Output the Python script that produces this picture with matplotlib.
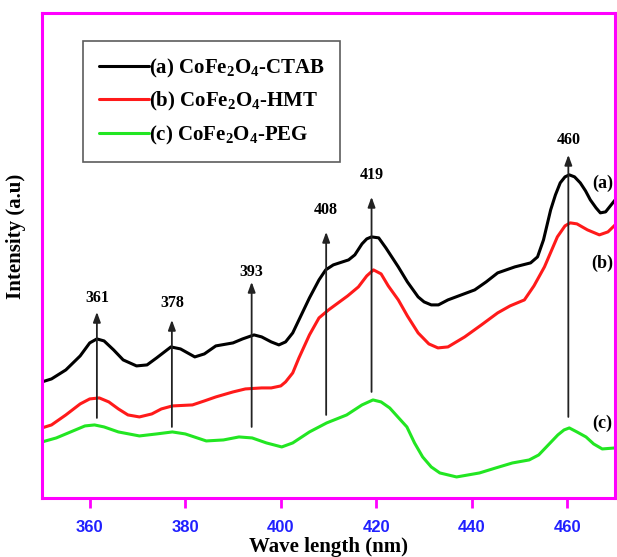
import numpy as np
import matplotlib
matplotlib.use("Agg")
import matplotlib.pyplot as plt


# ============================================================
# 1. DATA (intensity in a.u.)
# ============================================================

wl_a = [350, 352, 355, 358, 360, 361.5, 363, 365, 367, 369.8, 372, 374, 377, 379,
        382, 384, 386.4, 390, 392, 394.4, 396, 398, 399.6, 401, 402.5, 403.8, 406,
        408, 409.4, 411, 414.2, 415.5, 417, 418, 419, 420.5, 422, 424.6, 426.5,
        428.75, 430, 431.5, 433, 435, 440.6, 443, 445.4, 449, 452.3, 453.75, 455,
        456.5, 457.5, 458.5, 459.5, 460.4, 461.5, 462.7, 463.8, 464.8, 466, 466.9,
        468, 469, 470]
int_a = [1.16, 1.19, 1.28, 1.42, 1.55, 1.59, 1.57, 1.48, 1.38, 1.32, 1.33, 1.40,
         1.51, 1.49, 1.41, 1.44, 1.52, 1.55, 1.59, 1.63, 1.61, 1.56, 1.53, 1.56,
         1.65, 1.78, 2.00, 2.18, 2.28, 2.33, 2.38, 2.43, 2.54, 2.59, 2.61, 2.60,
         2.50, 2.31, 2.16, 2.01, 1.96, 1.93, 1.93, 1.98, 2.08, 2.16, 2.25, 2.31,
         2.35, 2.41, 2.58, 2.88, 3.03, 3.15, 3.21, 3.23, 3.21, 3.15, 3.07, 2.98,
         2.90, 2.85, 2.86, 2.92, 2.98]

wl_b = [350, 352, 355, 358, 360, 362, 364, 366, 368, 370.4, 373, 375, 377.3, 381.5,
        384, 386.4, 390, 392.6, 396, 398, 400, 401, 402.5, 403.8, 406, 408, 410,
        412, 414, 416.25, 418, 419.4, 421, 422.5, 424.6, 426.5, 428.75, 431, 432.9,
        435, 438.5, 442, 445.4, 448, 451, 453, 455.2, 457.9, 459.5, 460.6, 462,
        464.2, 466.7, 468.5, 470]
int_b = [0.70, 0.73, 0.83, 0.94, 0.99, 1.00, 0.96, 0.89, 0.83, 0.81, 0.84, 0.89,
         0.92, 0.93, 0.97, 1.01, 1.06, 1.09, 1.10, 1.10, 1.12, 1.16, 1.25, 1.40,
         1.63, 1.80, 1.88, 1.95, 2.02, 2.11, 2.22, 2.28, 2.24, 2.12, 1.98, 1.82,
         1.65, 1.54, 1.50, 1.51, 1.61, 1.73, 1.85, 1.92, 1.98, 2.12, 2.31, 2.61,
         2.72, 2.75, 2.74, 2.68, 2.63, 2.66, 2.73]

wl_c = [350, 353, 356, 359, 361, 363, 366, 370.4, 374, 377.3, 380, 384.4, 388,
        391.25, 394, 397, 400.2, 402.5, 406, 409.6, 413.8, 417, 419.3, 421, 422.8,
        424.5, 426.4, 428, 429.7, 431.5, 433.3, 436.8, 441.6, 445, 448.5, 452,
        454, 455.6, 458, 459.3, 460.4, 462, 463.9, 465.5, 467.3, 470]
int_c = [0.56, 0.60, 0.66, 0.72, 0.73, 0.71, 0.66, 0.62, 0.64, 0.66, 0.64, 0.57,
         0.58, 0.61, 0.60, 0.55, 0.51, 0.55, 0.66, 0.75, 0.83, 0.93, 0.98, 0.96,
         0.90, 0.81, 0.71, 0.55, 0.41, 0.31, 0.25, 0.21, 0.25, 0.30, 0.35, 0.38,
         0.43, 0.51, 0.63, 0.68, 0.70, 0.66, 0.61, 0.54, 0.49, 0.50]

series_labels = ["(a) CoFe$_2$O$_4$-CTAB", "(b) CoFe$_2$O$_4$-HMT", "(c) CoFe$_2$O$_4$-PEG"]
series_colors = ["black", "#ff1a1a", "#22e622"]

peak_labels = ["361", "378", "393", "408", "419", "460"]
peak_x = [361.5, 377.2, 393.9, 409.5, 419.0, 460.2]
arrow_start = [0.80, 0.71, 0.71, 0.83, 1.06, 0.81]
arrow_tip = [1.86, 1.78, 2.16, 2.66, 3.01, 3.43]
peak_text_y = [2.00, 1.95, 2.26, 2.88, 3.23, 3.58]

curve_tags = ["(a)", "(b)", "(c)"]
curve_tag_y = [3.15, 2.35, 0.75]

xticks = [360, 380, 400, 420, 440, 460]

MAGENTA = "#ff00ff"

# ============================================================
# 2. PLOT
# ============================================================

plt.rcParams["mathtext.fontset"] = "custom"
plt.rcParams["mathtext.rm"] = "Liberation Serif:bold"
plt.rcParams["mathtext.it"] = "Liberation Serif:bold"
plt.rcParams["mathtext.bf"] = "Liberation Serif:bold"

fig = plt.figure(figsize=(6.17, 5.57), dpi=100)
ax = fig.add_axes([0.068, 0.106, 0.929, 0.871])

for wl, inten, lab, col in zip([wl_a, wl_b, wl_c], [int_a, int_b, int_c],
                               series_labels, series_colors):
    ax.plot(wl, inten, color=col, lw=2.2, label=lab,
            solid_capstyle="round", solid_joinstyle="round")

# peak arrows
for x, y0, y1, txt, ty in zip(peak_x, arrow_start, arrow_tip, peak_labels, peak_text_y):
    ax.annotate("", xy=(x, y1), xytext=(x, y0),
                arrowprops=dict(arrowstyle="-|>,head_length=0.6,head_width=0.22",
                                color="#222222", lw=1.3, shrinkA=0, shrinkB=0))
    ax.text(x, ty, txt, ha="center", va="center", fontsize=11.5,
            fontweight="bold", family="Liberation Serif")

for tag, ty in zip(curve_tags, curve_tag_y):
    ax.text(467.3, ty, tag, ha="center", va="center", fontsize=13,
            fontweight="bold", family="Liberation Serif")

ax.set_xlim(350, 470)
ax.set_ylim(0, 4.85)
ax.set_xticks(xticks)
ax.set_yticks([])
ax.tick_params(axis="x", direction="out", length=7, width=2, color=MAGENTA,
               labelcolor="#2020ff", labelsize=12, pad=9)
for lab in ax.get_xticklabels():
    lab.set_fontweight("bold")
    lab.set_family("Liberation Sans")

for sp in ax.spines.values():
    sp.set_color(MAGENTA)
    sp.set_linewidth(2.2)

ax.set_xlabel("Wave length (nm)", fontsize=15, fontweight="bold",
              family="Liberation Serif", labelpad=1)
ax.set_ylabel("Intensity (a.u)", fontsize=15, fontweight="bold",
              family="Liberation Serif")
ax.yaxis.set_label_coords(-0.027, 0.54)

leg = ax.legend(loc="upper left", bbox_to_anchor=(0.0716, 0.942), frameon=True,
                fancybox=False, borderaxespad=0.0, handlelength=2.4,
                handletextpad=0.0, borderpad=0.75, labelspacing=0.5,
                prop={"family": "Liberation Serif", "weight": "bold", "size": 15})
leg.get_frame().set_edgecolor("#333333")
leg.get_frame().set_linewidth(1.2)

plt.savefig("out.png", dpi=100)
plt.close(fig)
